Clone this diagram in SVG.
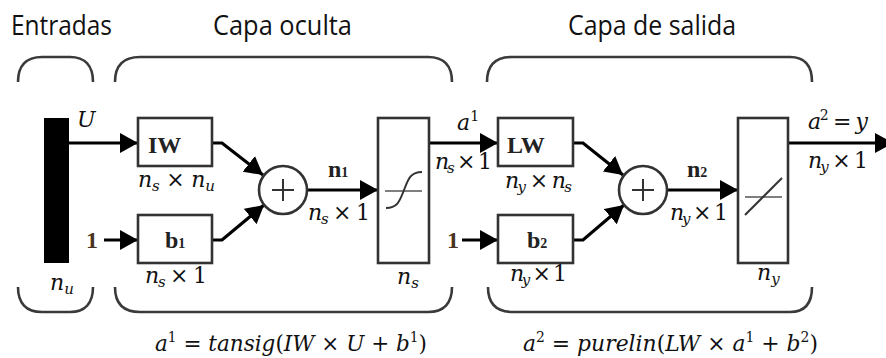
<svg xmlns="http://www.w3.org/2000/svg" width="886" height="358" viewBox="0 0 886 358">
<style>
.title{font-family:"Open Sans","Noto Sans","Liberation Sans",sans-serif;font-size:27px;fill:#111}
.m{font-family:"DejaVu Serif","Liberation Serif",serif;font-size:22px;fill:#111}
.i{font-style:italic}
.sub{font-size:15px}
.sup{font-size:14px}
.bl{font-family:"Liberation Serif","Times New Roman",serif;font-weight:bold;font-size:24px;fill:#222}
.sm{font-size:14px}
.one{font-family:"Liberation Serif","Times New Roman",serif;font-weight:bold;font-size:24px;fill:#4a3420}
.box{fill:#fff;stroke:#333;stroke-width:2.6}
.br{fill:none;stroke:#3a3a3a;stroke-width:2.6}
.ln{fill:none;stroke:#000;stroke-width:3.2}
.thin{fill:none;stroke:#333;stroke-width:2}
.glyph{fill:none;stroke:#555;stroke-width:1.6}
</style>
<defs>
<marker id="ah" markerUnits="userSpaceOnUse" markerWidth="18" markerHeight="20" refX="18" refY="10" orient="auto" viewBox="0 0 18 20">
<path d="M0,0 L18,10 L0,20 z" fill="#000"/>
</marker>
</defs>
<rect width="886" height="358" fill="#fff"/>

<g id="titles">
<text class="title" x="11" y="35" textLength="101" lengthAdjust="spacingAndGlyphs">Entradas</text>
<text class="title" x="213" y="35" textLength="139" lengthAdjust="spacingAndGlyphs">Capa oculta</text>
<text class="title" x="568" y="35" textLength="168" lengthAdjust="spacingAndGlyphs">Capa de salida</text>
</g>

<g id="brackets">
<path class="br" d="M18,82 C18,66 26,57 42,57 H70 C85,57 93,66 93,82"/>
<path class="br" d="M115,82 C115,66 123,57 140,57 H428 C444,57 452,66 452,82"/>
<path class="br" d="M487,82 C487,66 495,57 512,57 H790 C805,57 812,66 812,82"/>
<path class="br" d="M18,287 C18,303 26,312 42,312 H70 C85,312 93,303 93,287"/>
<path class="br" d="M115,287 C115,303 123,312 140,312 H428 C444,312 452,303 452,287"/>
<path class="br" d="M488,287 C488,303 496,312 513,312 H790 C805,312 812,303 812,287"/>
</g>

<g id="connectors">
<path class="ln" d="M69,143 H138" marker-end="url(#ah)"/>
<path class="ln" d="M104,240 H138" marker-end="url(#ah)"/>
<path class="ln" d="M212,143 H222 L263,175" marker-end="url(#ah)"/>
<path class="ln" d="M212,240 H222 L264,205" marker-end="url(#ah)"/>
<path class="ln" d="M307,190 H378" marker-end="url(#ah)"/>
<path class="ln" d="M429,143 H498" marker-end="url(#ah)"/>
<path class="ln" d="M462,240 H498" marker-end="url(#ah)"/>
<path class="ln" d="M573,143 H583 L623,175" marker-end="url(#ah)"/>
<path class="ln" d="M573,240 H583 L624,205" marker-end="url(#ah)"/>
<path class="ln" d="M667,190 H738" marker-end="url(#ah)"/>
<path class="ln" d="M788,143 H893" marker-end="url(#ah)"/>
</g>

<g id="input">
<rect x="44" y="118" width="25" height="145" fill="#000"/>
<text class="m i" x="77" y="127">U</text>
<text class="m" x="50" y="290"><tspan class="i">n</tspan><tspan class="i sub" dy="4">u</tspan></text>
</g>

<g id="IW">
<rect class="box" x="138" y="118" width="74" height="48"/>
<text class="bl" x="148" y="153">IW</text>
<text class="m" x="138" y="187" textLength="77" lengthAdjust="spacing"><tspan class="i">n</tspan><tspan class="i sub" dy="4">s</tspan><tspan dy="-4"> × </tspan><tspan class="i">n</tspan><tspan class="i sub" dy="4">u</tspan></text>
</g>

<g id="b1">
<text class="one" x="86" y="248">1</text>
<rect class="box" x="138" y="215" width="74" height="48"/>
<text class="bl" x="165" y="248">b<tspan class="sm">1</tspan></text>
<text class="m" x="145" y="283" textLength="62" lengthAdjust="spacing"><tspan class="i">n</tspan><tspan class="i sub" dy="4">s</tspan><tspan dy="-4"> × 1</tspan></text>
</g>

<g id="sum1">
<circle class="box" cx="283" cy="190" r="24"/>
<path class="thin" d="M272,190 H294 M283,179 V201"/>
<text class="bl" x="328" y="177">n<tspan class="sm">1</tspan></text>
<text class="m" x="308" y="220" textLength="62" lengthAdjust="spacing"><tspan class="i">n</tspan><tspan class="i sub" dy="4">s</tspan><tspan dy="-4"> × 1</tspan></text>
</g>

<g id="tansig">
<rect class="box" x="378" y="118" width="51" height="145"/>
<path class="glyph" d="M385,191 H422"/>
<path d="M386,208 C398,208 400,200 404,190 C408,180 410,172 422,172" fill="none" stroke="#333" stroke-width="2"/>
<text class="m" x="397" y="284"><tspan class="i">n</tspan><tspan class="i sub" dy="4">s</tspan></text>
<text class="m" x="457" y="130"><tspan class="i">a</tspan><tspan class="sup" dy="-9">1</tspan></text>
<text class="m" x="435" y="169" textLength="57" lengthAdjust="spacing"><tspan class="i">n</tspan><tspan class="i sub" dy="4">s</tspan><tspan dy="-4"> × 1</tspan></text>
</g>

<g id="LW">
<rect class="box" x="498" y="118" width="75" height="48"/>
<text class="bl" x="507" y="153">LW</text>
<text class="m" x="505" y="188" textLength="67" lengthAdjust="spacing"><tspan class="i">n</tspan><tspan class="i sub" dy="4">y</tspan><tspan dy="-4"> × </tspan><tspan class="i">n</tspan><tspan class="i sub" dy="4">s</tspan></text>
</g>

<g id="b2">
<text class="one" x="447" y="248">1</text>
<rect class="box" x="498" y="215" width="75" height="48"/>
<text class="bl" x="527" y="248">b<tspan class="sm">2</tspan></text>
<text class="m" x="510" y="281" textLength="57" lengthAdjust="spacing"><tspan class="i">n</tspan><tspan class="i sub" dy="4">y</tspan><tspan dy="-4"> × 1</tspan></text>
</g>

<g id="sum2">
<circle class="box" cx="643" cy="190" r="24"/>
<path class="thin" d="M632,190 H654 M643,179 V201"/>
<text class="bl" x="687" y="177">n<tspan class="sm">2</tspan></text>
<text class="m" x="670" y="220" textLength="58" lengthAdjust="spacing"><tspan class="i">n</tspan><tspan class="i sub" dy="4">y</tspan><tspan dy="-4"> × 1</tspan></text>
</g>

<g id="purelin">
<rect class="box" x="738" y="118" width="50" height="145"/>
<path class="glyph" d="M745,197 H782"/>
<path d="M745,215 L782,178" fill="none" stroke="#333" stroke-width="2"/>
<text class="m" x="757" y="280"><tspan class="i">n</tspan><tspan class="i sub" dy="4">y</tspan></text>
<text class="m" x="808" y="129" textLength="60" lengthAdjust="spacing"><tspan class="i">a</tspan><tspan class="sup" dy="-9">2</tspan><tspan dy="9"> = </tspan><tspan class="i">y</tspan></text>
<text class="m" x="808" y="168" textLength="60" lengthAdjust="spacing"><tspan class="i">n</tspan><tspan class="i sub" dy="4">y</tspan><tspan dy="-4"> × 1</tspan></text>
</g>

<g id="formulas">
<text class="m" x="155" y="351" textLength="272" lengthAdjust="spacingAndGlyphs"><tspan class="i">a</tspan><tspan class="sup" dy="-9">1</tspan><tspan dy="9"> = </tspan><tspan class="i">tansig</tspan>(<tspan class="i">IW</tspan> × <tspan class="i">U</tspan> + <tspan class="i">b</tspan><tspan class="sup" dy="-9">1</tspan><tspan dy="9">)</tspan></text>
<text class="m" x="523" y="351" textLength="295" lengthAdjust="spacingAndGlyphs"><tspan class="i">a</tspan><tspan class="sup" dy="-9">2</tspan><tspan dy="9"> = </tspan><tspan class="i">purelin</tspan>(<tspan class="i">LW</tspan> × <tspan class="i">a</tspan><tspan class="sup" dy="-9">1</tspan><tspan dy="9"> + </tspan><tspan class="i">b</tspan><tspan class="sup" dy="-9">2</tspan><tspan dy="9">)</tspan></text>
</g>
</svg>
